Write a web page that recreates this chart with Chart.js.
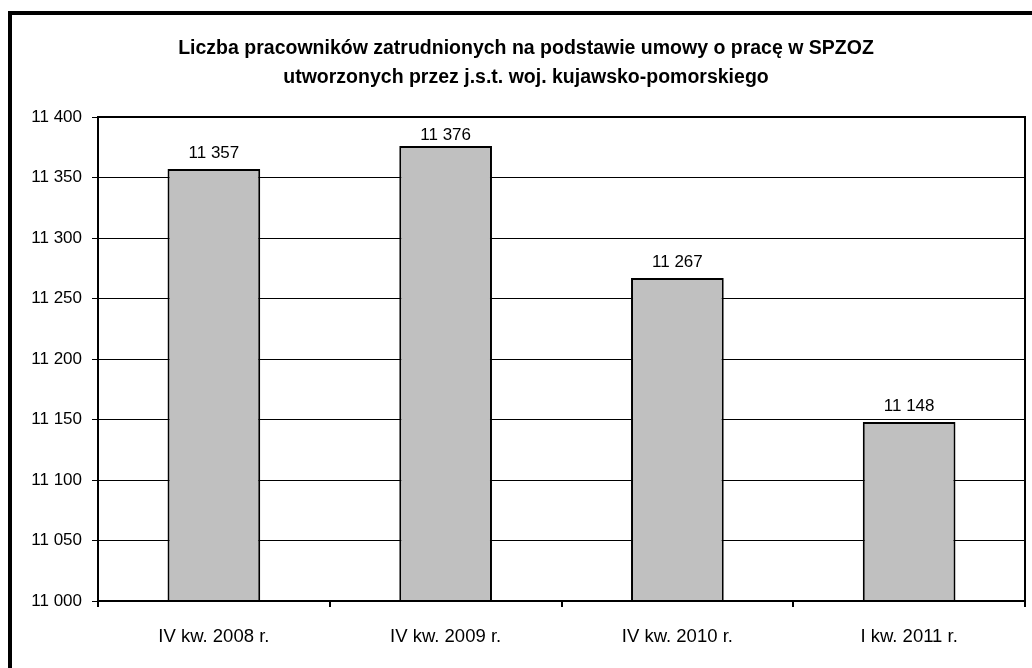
<!DOCTYPE html>
<html>
<head>
<meta charset="utf-8">
<script src="https://cdn.jsdelivr.net/npm/chart.js@4/dist/chart.umd.min.js"></script>
<style>
    html, body { margin: 0; padding: 0; background: #fff; overflow: hidden; }
    #frame {
        position: absolute; left: 8px; top: 11px;
        width: 1040px; height: 680px;
        border: 4px solid #000; box-sizing: border-box;
    }
    #wrap { position: absolute; left: 12px; top: 15px; width: 1028px; height: 653px; }
</style>
</head>
<body>
<div id="frame"></div>
<div id="wrap"><canvas id="chart" width="1028" height="653"></canvas></div>
<script>
const titleLines = [
    'Liczba pracowników zatrudnionych na podstawie umowy o pracę w SPZOZ',
    'utworzonych przez j.s.t. woj. kujawsko-pomorskiego'
]
const categories = ['IV kw. 2008 r.', 'IV kw. 2009 r.', 'IV kw. 2010 r.', 'I kw. 2011 r.']
const employees = [11357, 11376, 11267, 11148]
const yMin = 11000
const yMax = 11400
const yStep = 50

const FONT = "'Liberation Sans', Arial, sans-serif"

function formatNumber(v) {
    return String(v).replace(/\B(?=(\d{3})+(?!\d))/g, ' ')
}

const titlePlugin = {
    id: 'twoLineTitle',
    afterDraw(chart) {
        const ctx = chart.ctx
        ctx.save()
        ctx.fillStyle = '#000'
        ctx.font = 'bold 19.5px ' + FONT
        ctx.textAlign = 'center'
        ctx.textBaseline = 'middle'
        ctx.fillText(titleLines[0], chart.width / 2, 34)
        ctx.fillText(titleLines[1], chart.width / 2, 63)
        ctx.restore()
    }
}

const frameAndLabels = {
    id: 'frameAndLabels',
    afterDatasetsDraw(chart) {
        const ctx = chart.ctx
        const a = chart.chartArea
        ctx.save()
        ctx.strokeStyle = '#000'
        ctx.lineWidth = 2
        ctx.strokeRect(a.left, a.top, a.right - a.left, a.bottom - a.top)

        ctx.fillStyle = '#000'
        ctx.font = '17px ' + FONT
        ctx.textAlign = 'center'
        ctx.textBaseline = 'middle'
        chart.getDatasetMeta(0).data.forEach((bar, i) => {
            // keep the label inside the plot box, like the original does
            const y = Math.max(bar.y - 16, a.top + 18)
            ctx.fillText(formatNumber(employees[i]), bar.x, y)
        })
        ctx.restore()
    }
}

new Chart(document.getElementById('chart'), {
    type: 'bar',
    data: {
        labels: categories,
        datasets: [{
            data: employees,
            backgroundColor: '#c0c0c0',
            borderColor: '#000',
            borderWidth: 2,
            borderSkipped: false,
            barPercentage: 0.4,
            categoryPercentage: 1.0
        }]
    },
    options: {
        responsive: false,
        animation: false,
        layout: { padding: { top: 102, right: 15, left: 0, bottom: 0 } },
        plugins: {
            legend: { display: false },
            title: { display: false },
            tooltip: { enabled: false }
        },
        scales: {
            x: {
                afterFit(scale) { scale.height = 67 },
                grid: {
                    offset: true,
                    drawOnChartArea: false,
                    drawTicks: true,
                    tickLength: 6,
                    color: '#000',
                    lineWidth: 2
                },
                border: { display: true, color: '#000', width: 2 },
                ticks: {
                    color: '#000',
                    font: { family: FONT, size: 18.5 },
                    padding: 19,
                    maxRotation: 0
                }
            },
            y: {
                min: yMin,
                max: yMax,
                afterFit(scale) { scale.width = 86 },
                grid: {
                    color: '#000',
                    lineWidth: 1,
                    drawTicks: true,
                    tickLength: 6
                },
                border: { display: true, color: '#000', width: 2 },
                ticks: {
                    stepSize: yStep,
                    color: '#000',
                    font: { family: FONT, size: 17 },
                    padding: 10,
                    callback: v => formatNumber(v)
                }
            }
        }
    },
    plugins: [titlePlugin, frameAndLabels]
})
</script>
</body>
</html>
